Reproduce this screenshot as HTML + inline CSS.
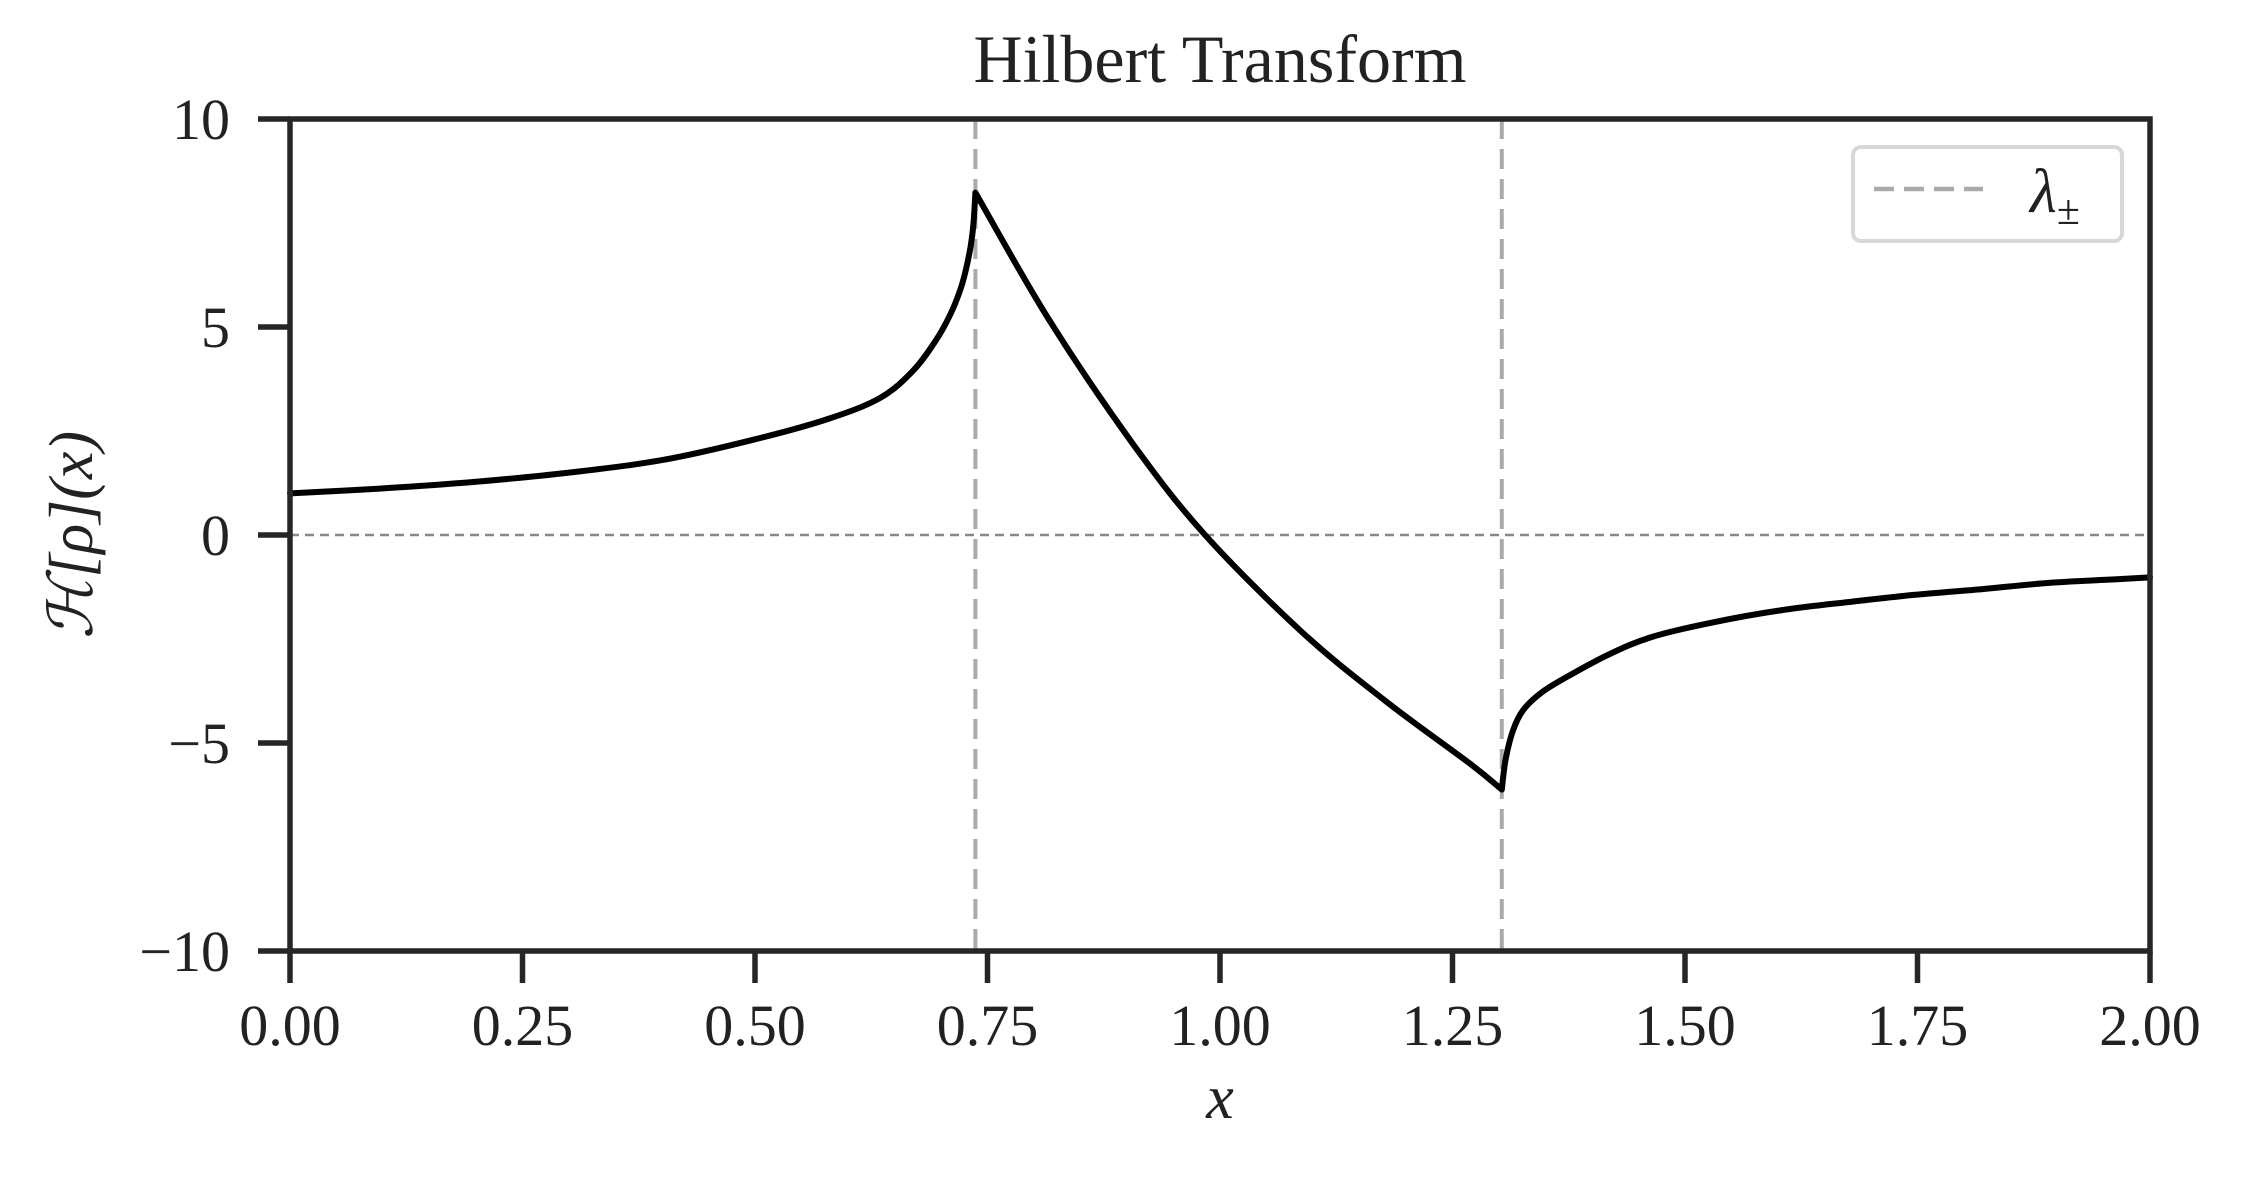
<!DOCTYPE html>
<html><head><meta charset="utf-8"><style>html,body{margin:0;padding:0;background:#fff}svg{display:block}text{font-family:"Liberation Serif","DejaVu Serif",serif;fill:#222}</style></head>
<body>
<svg id="chart" width="2243" height="1179" viewBox="0 0 2243 1179" xmlns="http://www.w3.org/2000/svg">
<text x="1220" y="82" font-size="68" text-anchor="middle">Hilbert Transform</text>
<g id="plot"></g>
<text x="1220" y="1118" font-size="62" font-style="italic" text-anchor="middle">x</text>
<text transform="translate(92,535) rotate(-90)" font-size="62" font-style="italic" text-anchor="middle">ℋ[ρ](x)</text>
<g>
<rect x="1853" y="147" width="269" height="94" rx="8" fill="#fff" stroke="#d8d8d8" stroke-width="4"/>
<line x1="1874" y1="189" x2="1983" y2="189" stroke="#aaa" stroke-width="4.5" stroke-dasharray="20,10"/>
<text x="2030" y="212" font-size="62" font-style="italic">λ<tspan font-size="42" font-style="normal" dy="12">±</tspan></text>
</g>
</svg>
<script>
const xTicks=[0,0.25,0.5,0.75,1.0,1.25,1.5,1.75,2.0];
const xTickLabels=["0.00","0.25","0.50","0.75","1.00","1.25","1.50","1.75","2.00"];
const yTicks=[-10,-5,0,5,10];
const yTickLabels=["\u221210","\u22125","0","5","10"];
const lambdaLines=[0.737,1.303];
const curveX=[0,0.1,0.2,0.3,0.4,0.5,0.58,0.635,0.67,0.694,0.71,0.721,0.727,0.732,0.735,0.737,0.816,0.907,0.984,1.088,1.178,1.269,1.303,1.307,1.315,1.326,1.345,1.373,1.42,1.466,1.53,1.606,1.68,1.746,1.82,1.886,1.95,2.0];
const curveY=[1.0,1.12,1.28,1.5,1.8,2.3,2.8,3.3,3.95,4.66,5.3,5.91,6.4,6.96,7.5,8.23,5.18,2.17,0,-2.33,-3.99,-5.5,-6.12,-5.41,-4.7,-4.21,-3.8,-3.41,-2.85,-2.44,-2.1,-1.8,-1.6,-1.44,-1.3,-1.16,-1.08,-1.02];
const L=290,R=2150,T=119,B=951;
const sx=v=>L+(v-0)/(2-0)*(R-L);
const sy=v=>B-(v+10)/20*(B-T);
const NS="http://www.w3.org/2000/svg";
const g=document.getElementById('plot');
function mk(tag,attrs,parent){const e=document.createElementNS(NS,tag);for(const k in attrs)e.setAttribute(k,attrs[k]);(parent||g).appendChild(e);return e;}
const zl=mk('line',{x1:L,x2:R,y1:sy(0),y2:sy(0),stroke:'#888','stroke-width':2.5,'stroke-dasharray':'9,6'});


lambdaLines.forEach(v=>{const l=mk('line',{x1:sx(v),x2:sx(v),y1:T,y2:B,stroke:'#aaa','stroke-width':4,'stroke-dasharray':'20,10'});

});
const pts=curveX.map((x,i)=>[sx(x),sy(curveY[i])]);
const brk=new Set(lambdaLines.map(v=>v.toFixed(3)));
const isBrk=i=>brk.has(curveX[i].toFixed(3));
let d='M'+pts[0][0].toFixed(1)+','+pts[0][1].toFixed(1);
for(let i=0;i<pts.length-1;i++){
  const p1=pts[i],p2=pts[i+1];
  const p0=(i>0&&!isBrk(i))?pts[i-1]:p1;
  const p3=(i+2<pts.length&&!isBrk(i+1))?pts[i+2]:p2;
  const c1=[p1[0]+(p2[0]-p0[0])/6,p1[1]+(p2[1]-p0[1])/6];
  const c2=[p2[0]-(p3[0]-p1[0])/6,p2[1]-(p3[1]-p1[1])/6];
  d+=' C'+c1.map(v=>v.toFixed(1)).join(',')+' '+c2.map(v=>v.toFixed(1)).join(',')+' '+p2[0].toFixed(1)+','+p2[1].toFixed(1);
}
const p=mk('path',{d:d,fill:'none',stroke:'#000','stroke-width':6,'stroke-linejoin':'round','stroke-linecap':'round'});


const fr=mk('rect',{x:L,y:T,width:R-L,height:B-T,fill:'none',stroke:'#262626','stroke-width':5.5});


xTicks.forEach((v,i)=>{const t=mk('line',{x1:sx(v),x2:sx(v),y1:B,y2:B+32,stroke:'#262626','stroke-width':5.5});


const tx=mk('text',{x:sx(v),y:1045,'font-size':58,'text-anchor':'middle'});tx.textContent=xTickLabels[i];

});
yTicks.forEach((v,i)=>{const t=mk('line',{x1:L-32,x2:L,y1:sy(v),y2:sy(v),stroke:'#262626','stroke-width':5.5});


const tx=mk('text',{x:230,y:sy(v)+20,'font-size':58,'text-anchor':'end'});tx.textContent=yTickLabels[i];

});
</script>
</body></html>
